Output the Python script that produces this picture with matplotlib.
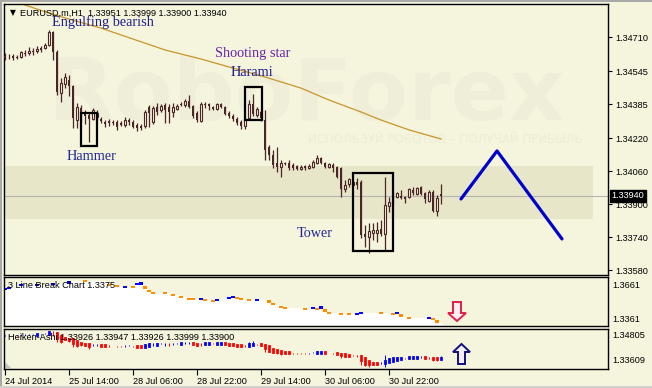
import numpy as np
import matplotlib
matplotlib.use('Agg')
import matplotlib.pyplot as plt
from matplotlib.patches import Rectangle, Polygon
import matplotlib.transforms as mtransforms

plt.rcParams['font.family'] = ['Liberation Sans', 'DejaVu Sans']

W, H = 652, 388
BG = '#F5F4DC'
SHADE = '#E8E6C8'
CANDLE = '#4B2626'
BULL_FILL = '#F8F7E4'

# EURUSD H1 candles, bar 0 = 24 Jul 2014 22:00
opens = [1.34618, 1.34614, 1.34618, 1.34614, 1.34614, 1.34633, 1.34633, 1.34643, 1.34643, 1.34657,
         1.34657, 1.34672, 1.34735, 1.34638, 1.34439, 1.34483, 1.34502, 1.34473, 1.34308, 1.34366,
         1.34347, 1.34332, 1.34313, 1.34323, 1.34313, 1.34298, 1.34303, 1.34298, 1.34298, 1.34293,
         1.34284, 1.34308, 1.34298, 1.34284, 1.34279, 1.34279, 1.34371, 1.34298, 1.34371, 1.34357,
         1.34381, 1.34371, 1.34347, 1.34361, 1.34386, 1.34381, 1.34400, 1.34376, 1.34342, 1.34303,
         1.34386, 1.34386, 1.34371, 1.34361, 1.34386, 1.34371, 1.34342, 1.34327, 1.34313, 1.34298,
         1.34279, 1.34318, 1.34386, 1.34332, 1.34347, 1.34308, 1.34177, 1.34138, 1.34099, 1.34080,
         1.34099, 1.34099, 1.34090, 1.34085, 1.34070, 1.34085, 1.34075, 1.34080, 1.34099, 1.34124,
         1.34099, 1.34080, 1.34090, 1.34080, 1.34075, 1.33973, 1.33998, 1.33993, 1.34007, 1.34007,
         1.33755, 1.33741, 1.33760, 1.33760, 1.33779, 1.33755, 1.33891, 1.33949, 1.33934, 1.33939,
         1.33934, 1.33934, 1.33969, 1.33949, 1.33983, 1.33954, 1.33915, 1.33959, 1.33867, 1.33951]
closes = [1.34609, 1.34613, 1.34609, 1.34609, 1.34638, 1.34628, 1.34643, 1.34638, 1.34652, 1.34648,
          1.34672, 1.34735, 1.34638, 1.34444, 1.34487, 1.34517, 1.34473, 1.34318, 1.34371, 1.34342,
          1.34327, 1.34313, 1.34357, 1.34342, 1.34303, 1.34289, 1.34293, 1.34293, 1.34274, 1.34284,
          1.34308, 1.34298, 1.34274, 1.34269, 1.34269, 1.34347, 1.34342, 1.34366, 1.34347, 1.34376,
          1.34357, 1.34347, 1.34371, 1.34376, 1.34381, 1.34400, 1.34371, 1.34327, 1.34308, 1.34386,
          1.34381, 1.34376, 1.34361, 1.34386, 1.34371, 1.34337, 1.34327, 1.34313, 1.34293, 1.34279,
          1.34313, 1.34386, 1.34337, 1.34361, 1.34318, 1.34163, 1.34138, 1.34090, 1.34080, 1.34099,
          1.34095, 1.34075, 1.34075, 1.34070, 1.34080, 1.34075, 1.34085, 1.34104, 1.34124, 1.34099,
          1.34080, 1.34095, 1.34075, 1.34032, 1.33973, 1.33993, 1.34022, 1.34007, 1.33993, 1.33750,
          1.33741, 1.33770, 1.33775, 1.33775, 1.33755, 1.33896, 1.33910, 1.33905, 1.33954, 1.33930,
          1.33925, 1.33973, 1.33954, 1.33978, 1.33949, 1.33925, 1.33959, 1.33867, 1.33930, 1.33940]
highs = [1.34633, 1.34628, 1.34628, 1.34623, 1.34643, 1.34648, 1.34662, 1.34657, 1.34667, 1.34667,
         1.34681, 1.34744, 1.34740, 1.34648, 1.34512, 1.34536, 1.34526, 1.34478, 1.34390, 1.34381,
         1.34357, 1.34347, 1.34366, 1.34357, 1.34323, 1.34308, 1.34313, 1.34308, 1.34308, 1.34303,
         1.34323, 1.34318, 1.34308, 1.34293, 1.34289, 1.34357, 1.34381, 1.34376, 1.34390, 1.34386,
         1.34390, 1.34386, 1.34390, 1.34386, 1.34395, 1.34410, 1.34429, 1.34381, 1.34352, 1.34395,
         1.34395, 1.34390, 1.34376, 1.34390, 1.34390, 1.34376, 1.34352, 1.34337, 1.34323, 1.34308,
         1.34323, 1.34405, 1.34434, 1.34371, 1.34357, 1.34357, 1.34187, 1.34163, 1.34177, 1.34114,
         1.34104, 1.34114, 1.34099, 1.34090, 1.34090, 1.34090, 1.34095, 1.34114, 1.34138, 1.34129,
         1.34104, 1.34099, 1.34099, 1.34085, 1.34080, 1.34017, 1.34027, 1.34017, 1.34027, 1.34017,
         1.33799, 1.33809, 1.33809, 1.33813, 1.33823, 1.34032, 1.33934, 1.33959, 1.33959, 1.33969,
         1.33939, 1.33978, 1.33983, 1.33983, 1.33988, 1.33959, 1.33969, 1.33969, 1.33944, 1.33999]
lows = [1.34599, 1.34604, 1.34599, 1.34604, 1.34609, 1.34618, 1.34623, 1.34623, 1.34633, 1.34638,
        1.34652, 1.34667, 1.34599, 1.34429, 1.34395, 1.34463, 1.34424, 1.34269, 1.34269, 1.34298,
        1.34289, 1.34201, 1.34308, 1.34308, 1.34293, 1.34274, 1.34279, 1.34284, 1.34260, 1.34279,
        1.34274, 1.34284, 1.34269, 1.34255, 1.34260, 1.34269, 1.34274, 1.34289, 1.34332, 1.34347,
        1.34293, 1.34293, 1.34323, 1.34357, 1.34376, 1.34371, 1.34366, 1.34318, 1.34298, 1.34298,
        1.34366, 1.34357, 1.34357, 1.34357, 1.34366, 1.34332, 1.34318, 1.34303, 1.34284, 1.34264,
        1.34264, 1.34308, 1.34327, 1.34323, 1.34303, 1.34114, 1.34114, 1.34075, 1.34056, 1.34032,
        1.34090, 1.34066, 1.34066, 1.34066, 1.34066, 1.34066, 1.34070, 1.34075, 1.34095, 1.34095,
        1.34075, 1.34075, 1.34056, 1.34027, 1.33934, 1.33959, 1.33983, 1.33988, 1.33973, 1.33736,
        1.33692, 1.33663, 1.33726, 1.33716, 1.33745, 1.33678, 1.33862, 1.33896, 1.33930, 1.33925,
        1.33905, 1.33930, 1.33944, 1.33944, 1.33944, 1.33905, 1.33910, 1.33862, 1.33842, 1.33900]

# moving average
ma_bars = [3, 5, 11, 16, 24, 32, 40, 49, 57, 65, 74, 81, 89, 94, 101, 109]
ma_prices = [1.34885, 1.34866, 1.34827, 1.34798, 1.34754, 1.34701, 1.34648, 1.34604,
             1.34560, 1.34517, 1.34463, 1.34405, 1.34347, 1.34308, 1.34260, 1.34216]

# hand drawn forecast zigzag
zig_bars = [114, 123, 139.25]
zig_prices = [1.33925, 1.34158, 1.33731]

main_ticks = [1.34710, 1.34545, 1.34385, 1.34220, 1.34060, 1.33900, 1.33740, 1.33580]
main_tick_labels = ['1.34710', '1.34545', '1.34385', '1.34220', '1.34060', '1.33900', '1.33740', '1.33580']
last_price = 1.33940

time_ticks = [0, 16, 32, 48, 64, 80, 96]
time_labels = ['24 Jul 2014', '25 Jul 14:00', '28 Jul 06:00', '28 Jul 22:00',
               '29 Jul 14:00', '30 Jul 06:00', '30 Jul 22:00']

# 3 line break marks: bar, top, bottom, direction
lb_bar = [0, 1, 4, 8, 12, 16, 20, 26, 28, 30, 32, 33, 34, 35, 36, 37, 40, 42, 44, 46, 47, 49, 50,
          52, 53, 56, 57, 58, 59, 61, 63, 66, 67, 69, 70, 75, 77, 78, 79, 80, 81, 84, 86, 88, 89,
          94, 97, 98, 99, 101, 106, 107, 108]
lb_top = [1.35876, 1.35937, 1.36120, 1.36120, 1.36182, 1.36365, 1.36365, 1.36120, 1.36059, 1.35998,
          1.35998, 1.36182, 1.36304, 1.36059, 1.35814, 1.35631, 1.35631, 1.35508, 1.35386, 1.35264,
          1.35264, 1.35264, 1.35202, 1.35141, 1.35202, 1.35325, 1.35386, 1.35325, 1.35325, 1.35202,
          1.35202, 1.35202, 1.35019, 1.34774, 1.34713, 1.34652, 1.34713, 1.34652, 1.34835, 1.34652,
          1.34407, 1.34346, 1.34346, 1.34346, 1.34407, 1.34407, 1.34346, 1.34407, 1.34346, 1.34101,
          1.34101, 1.34040, 1.33978]
lb_bottom = [1.35876, 1.35937, 1.36120, 1.36120, 1.36182, 1.36182, 1.36365, 1.36120, 1.36059, 1.35998,
             1.35998, 1.36182, 1.36120, 1.35876, 1.35692, 1.35631, 1.35631, 1.35508, 1.35386, 1.35264,
             1.35264, 1.35264, 1.35202, 1.35141, 1.35202, 1.35325, 1.35386, 1.35325, 1.35202, 1.35202,
             1.35202, 1.35019, 1.34896, 1.34774, 1.34713, 1.34652, 1.34713, 1.34652, 1.34652, 1.34468,
             1.34407, 1.34346, 1.34346, 1.34346, 1.34407, 1.34407, 1.34346, 1.34407, 1.34162, 1.34101,
             1.34101, 1.34040, 1.33794]
lb_dir = ['u', 'u', 'u', 'u', 'u', 'u', 'd', 'd', 'd', 'u', 'd', 'u', 'u', 'd', 'd', 'd', 'd', 'd',
          'd', 'd', 'd', 'u', 'd', 'd', 'u', 'u', 'u', 'd', 'd', 'd', 'u', 'd', 'd', 'd', 'd', 'd',
          'u', 'd', 'u', 'd', 'd', 'd', 'd', 'u', 'u', 'd', 'd', 'u', 'd', 'd', 'u', 'd', 'd']

o = np.array(opens)
c = np.array(closes)
h = np.array(highs)
l = np.array(lows)
n = len(o)
x = np.arange(n)

fig = plt.figure(figsize=(W / 100, H / 100), dpi=100, facecolor=BG)


def px_axes(top, bottom):
    return fig.add_axes([4 / W, 1 - bottom / H, 604 / W, (bottom - top) / H])


ax = px_axes(4, 275)
ax2 = px_axes(277, 326)
ax3 = px_axes(329, 369)
for a in (ax, ax2, ax3):
    a.set_facecolor(BG)
    for s in a.spines.values():
        s.set_color('black')
        s.set_linewidth(1.0)
    a.set_xlim(-0.25, 150.75)
    a.tick_params(axis='y', left=False, labelleft=False, right=True, labelright=True,
                  length=3, width=0.8, pad=2, labelsize=6.6, colors='black')
    a.tick_params(axis='x', bottom=False, labelbottom=False)

# ---- main price window
ax.set_ylim(1.33556, 1.34871)
ax.set_yticks(main_ticks)
ax.set_yticklabels(main_tick_labels)

ax.add_patch(Rectangle((-0.25, 1.33828), 147.25, 0.00257, facecolor=SHADE, edgecolor='none', zorder=1))

# faint broker watermark
ax.text(47 / W, 1 - 120 / H, 'RoboForex', transform=fig.transFigure, fontsize=62,
        fontweight='bold', family='DejaVu Sans', color='#EFEED8', va='baseline', zorder=0.5)
ax.text(583 / W, 1 - 143 / H, 'ИСПОЛЬЗУЙ РОБОТОВ – ПОЛУЧАЙ ПРИБЫЛЬ', transform=fig.transFigure,
        fontsize=8.6, family='DejaVu Sans', color='#EDECD5', ha='right', va='baseline', zorder=0.5)

ax.axhline(last_price, color='#B4B4B4', lw=0.8, zorder=1.5)
ax.plot(ma_bars, ma_prices, color='#C8952A', lw=0.9, zorder=2)

up = c >= o
body_lo = np.minimum(o, c)
body_h = np.maximum(np.abs(c - o), 0.00002)
ax.vlines(x, l, h, color=CANDLE, lw=0.9, zorder=3)
ax.bar(x[~up], body_h[~up], bottom=body_lo[~up], width=0.72, color=CANDLE, lw=0, zorder=3.1)
ax.bar(x[up], body_h[up], bottom=body_lo[up], width=0.55, facecolor=BULL_FILL,
       edgecolor=CANDLE, lw=0.8, zorder=3.1)

ax.plot(zig_bars, zig_prices, color='#0000CC', lw=2.3, solid_capstyle='round', zorder=4)

for (x0, x1, y0, y1) in [(19, 23, 1.34182, 1.34342), (60, 64.25, 1.34308, 1.34468),
                         (87, 97, 1.33673, 1.34051)]:
    ax.add_patch(Rectangle((x0, y0), x1 - x0, y1 - y0, fill=False, edgecolor='black',
                           lw=1.6, zorder=4.5))

serif = 'Liberation Serif'
ax.text(11.75, 1.34783, 'Engulfing bearish', family=serif, fontsize=10.3, color='#1E1E8C', va='center', zorder=5)
ax.text(52.5, 1.34633, 'Shooting star', family=serif, fontsize=10.3, color='#6A22A8', va='center', zorder=5)
ax.text(56.5, 1.34541, 'Harami', family=serif, fontsize=10.3, color='#1E1E8C', va='center', zorder=5)
ax.text(15.5, 1.34133, 'Hammer', family=serif, fontsize=10.3, color='#1E2A96', va='center', zorder=5)
ax.text(73, 1.33755, 'Tower', family=serif, fontsize=10.3, color='#1E2A96', va='center', zorder=5)

tr = mtransforms.blended_transform_factory(ax.transAxes, ax.transData)
ax.text(1.006, last_price, '1.33940', transform=tr, fontsize=6.6, color='white', va='center',
        ha='left', zorder=10, clip_on=False,
        bbox=dict(boxstyle='square,pad=0.15', facecolor='black', edgecolor='black'))

# ---- 3 line break window
ax2.set_ylim(1.3361, 1.3661)
ax2.set_yticks([])
lb_level = [b if d == 'd' else t for t, b, d in zip(lb_top, lb_bottom, lb_dir)]
edges = [-0.25] + [b - 0.5 for b in lb_bar[1:]] + [109.5]
ax2.fill_between(edges, lb_level + [lb_level[-1]], 1.3361, step='post', color='white', lw=0, zorder=1)
for b, t, bt, d in zip(lb_bar, lb_top, lb_bottom, lb_dir):
    col = '#0000FF' if d == 'u' else '#FF8C00'
    if t - bt > 0.0002:
        ax2.bar(b, t - bt, bottom=bt, width=0.9, color=col, lw=0, zorder=2)
    else:
        ax2.hlines(t, b - 0.45, b + 0.45, color=col, lw=1.4, zorder=2)
ax2.text(1.008, (326 - 286) / 49, '1.3661', transform=ax2.transAxes, fontsize=6.6, va='center')
ax2.text(1.008, (326 - 319) / 49, '1.3361', transform=ax2.transAxes, fontsize=6.6, va='center')

# ---- Heiken Ashi window
ha_close = (o + h + l + c) / 4
ha_open = np.empty(n)
ha_open[0] = (o[0] + c[0]) / 2
for i in range(1, n):
    ha_open[i] = (ha_open[i - 1] + ha_close[i - 1]) / 2
ha_hi = np.maximum(h, np.maximum(ha_open, ha_close))
ha_lo = np.minimum(l, np.minimum(ha_open, ha_close))
ha_cols = np.where(ha_close >= ha_open, '#0000FF', '#FF0000')
ax3.set_ylim(1.33609, 1.34805)
ax3.set_yticks([])
ax3.vlines(x, ha_lo, ha_hi, colors=ha_cols, lw=0.7, zorder=2)
ax3.vlines(x, ha_open, ha_close, colors=ha_cols, lw=2.0, capstyle='projecting', zorder=2.1)
ax3.text(1.008, (369 - 336) / 40, '1.34805', transform=ax3.transAxes, fontsize=6.6, va='center')
ax3.text(1.008, (369 - 360.7) / 40, '1.33609', transform=ax3.transAxes, fontsize=6.6, va='center')
ax3.add_patch(Polygon([(0.002, 0.02), (0.012, 0.02), (0.002, 0.17)], closed=True,
                      transform=ax3.transAxes, facecolor='#C4C4C4', edgecolor='none'))

ax3.set_xticks(time_ticks)
ax3.set_xticklabels(time_labels, ha='left')
ax3.tick_params(axis='x', bottom=True, labelbottom=True, length=4, width=0.8, pad=1.5, labelsize=6.6)

# ---- header texts
fig.text(10 / W, 1 - 13 / H, '▼', fontsize=5.5, va='center', family='DejaVu Sans')
fig.text(20 / W, 1 - 13 / H, 'EURUSD.m,H1  1.33951 1.33999 1.33900 1.33940', fontsize=6.6, va='center')
fig.text(8 / W, 1 - 285 / H, '3 Line Break Chart 1.3375', fontsize=6.6, va='center')
fig.text(8 / W, 1 - 337 / H, 'Heiken-Ashi 1.33926 1.33947 1.33926 1.33999 1.33900', fontsize=6.6, va='center')


def px_poly(pts, face, edge):
    fig.add_artist(Polygon([(px / W, 1 - py / H) for px, py in pts], closed=True,
                           transform=fig.transFigure, facecolor=face, edgecolor=edge, lw=1.4))


px_poly([(453, 302), (461, 302), (461, 313), (466, 313), (457, 321), (448, 313), (453, 313)],
        '#FBEFF0', '#E0204A')
px_poly([(461.5, 344), (470, 352), (465, 352), (465, 364), (458, 364), (458, 352), (453, 352)],
        '#F7EEF4', '#101080')

# window frame
fig.add_artist(Rectangle((0, 1 - 2 / H), 1, 2 / H, transform=fig.transFigure, facecolor='#A9A9A9', edgecolor='none'))
fig.add_artist(Rectangle((0, 0), 2 / W, 1, transform=fig.transFigure, facecolor='#A9A9A9', edgecolor='none'))
fig.add_artist(Rectangle((0, 0), 1, 2 / H, transform=fig.transFigure, facecolor='#D0D0D0', edgecolor='none'))

fig.savefig('out.png', dpi=100, facecolor=BG)
